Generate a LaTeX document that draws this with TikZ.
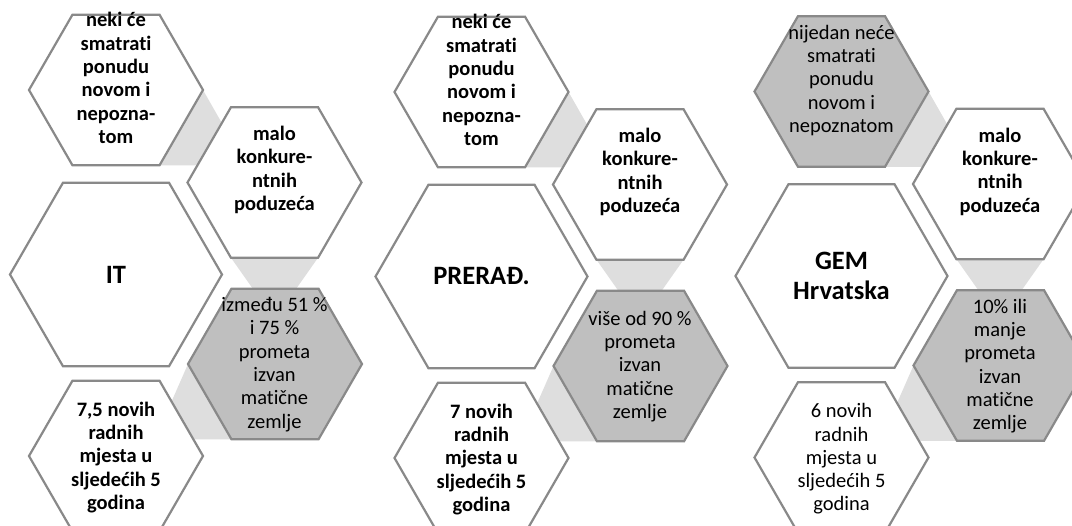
\documentclass[tikz,border=0pt]{standalone}
\usepackage{fontspec}
\setmainfont{Carlito}[Ligatures={NoCommon}]
\usetikzlibrary{shapes.geometric,calc,backgrounds}
\definecolor{hexline}{RGB}{137,137,137}
\definecolor{hexgray}{RGB}{191,191,191}
\definecolor{trigray}{RGB}{222,222,222}
\tikzset{
  hexsmall/.style={regular polygon, regular polygon sides=6, minimum size=174pt,
    inner sep=0pt, outer sep=0pt, draw=hexline, line width=2.2pt, fill=white},
  hexbig/.style={hexsmall, minimum size=212pt},
  hexdark/.style={fill=hexgray},
  txt/.style={align=center, inner sep=0pt, font=\fontsize{20.5}{23.3}\selectfont},
  txtb/.style={align=center, inner sep=0pt, font=\fontsize{20.5}{23.3}\selectfont\bfseries},
  txtbig/.style={align=center, inner sep=0pt, font=\fontsize{26.5}{30}\selectfont\bfseries},
  link/.style={fill=trigray},
}
\begin{document}
\begin{tikzpicture}[x=1pt,y=-1pt]
\useasboundingbox (0,0) rectangle (1072,526);
% ---------- group 1 : IT ----------
\begin{scope}[shift={(0,0)}]
  \node[hexsmall] (t1) at (116,90) {};
  \node[hexsmall] (r1) at (274.5,182.5) {};
  \node[hexbig] (b1) at (116,274.5) {};
  \node[hexsmall,hexdark] (g1) at (275,364) {};
  \node[hexsmall] (d1) at (116,456) {};
  \node[txtb] (t1x) at (116,78) {neki će\\smatrati\\ponudu\\novom i\\nepozna-\\tom};
  \node[txtb] (r1x) at (274.5,170) {malo\\konkure-\\ntnih\\poduzeća};
  \node[txtbig] (b1x) at (116,274.5) {IT};
  \node[txt] (g1x) at (274.5,364.5) {između 51 \%\\i 75 \%\\prometa\\izvan\\matične\\zemlje};
  \node[txtb] (d1x) at (116,457.5) {7,5 novih\\radnih\\mjesta u\\sljedećih 5\\godina};
\end{scope}
% ---------- group 2 : PRERAĐ. ----------
\begin{scope}[shift={(365.5,2)}]
  \node[hexsmall] (t2) at (116,90) {};
  \node[hexsmall] (r2) at (274.5,182.5) {};
  \node[hexbig] (b2) at (116,274.5) {};
  \node[hexsmall,hexdark] (g2) at (275,364) {};
  \node[hexsmall] (d2) at (116,456) {};
  \node[txtb] (t2x) at (116,78) {neki će\\smatrati\\ponudu\\novom i\\nepozna-\\tom};
  \node[txtb] (r2x) at (274.5,170) {malo\\konkure-\\ntnih\\poduzeća};
  \node[txtbig] (b2x) at (116,274.5) {PRERAĐ.};
  \node[txt] (g2x) at (274.5,364.5) {više od 90 \%\\prometa\\izvan\\matične\\zemlje};
  \node[txtb] (d2x) at (116,457.5) {7 novih\\radnih\\mjesta u\\sljedećih 5\\godina};
\end{scope}
% ---------- group 3 : GEM Hrvatska ----------
\begin{scope}[shift={(725.5,1.5)}]
  \node[hexsmall,hexdark] (t3) at (116,90) {};
  \node[hexsmall] (r3) at (274.5,182.5) {};
  \node[hexbig] (b3) at (116,274.5) {};
  \node[hexsmall,hexdark] (g3) at (275,364) {};
  \node[hexsmall] (d3) at (116,456) {};
  \node[txt] (t3x) at (116,79) {nijedan neće\\smatrati\\ponudu\\novom i\\nepoznatom};
  \node[txtb] (r3x) at (274.5,170) {malo\\konkure-\\ntnih\\poduzeća};
  \node[txtbig] (b3x) at (116,274.5) {GEM\\Hrvatska};
  \node[txt] (g3x) at (274.5,364.5) {10\% ili\\manje\\prometa\\izvan\\matične\\zemlje};
  \node[txt] (d3x) at (116,457.5) {6 novih\\radnih\\mjesta u\\sljedećih 5\\godina};
\end{scope}
% ---------- light connectors behind the hexagons ----------
\begin{pgfonlayer}{background}
\foreach \g in {1,2,3} {
  \fill[link] ($(t\g.center)+(87,0)$) -- ($(t\g.center)+(43.5,75.3)$) -- ($(t\g.center)+(130,75.3)$) -- cycle;
  \fill[link] ($(r\g.center)+(-43.5,75.3)$) -- ($(r\g.center)+(43.5,75.3)$) -- ($(r\g.center)+(0,137)$) -- cycle;
  \fill[link] ($(g\g.center)+(-87,0)$) -- ($(g\g.center)+(-43.5,75.3)$) -- ($(g\g.center)+(-120,75.3)$) -- cycle;
}
\end{pgfonlayer}
\end{tikzpicture}
\end{document}
